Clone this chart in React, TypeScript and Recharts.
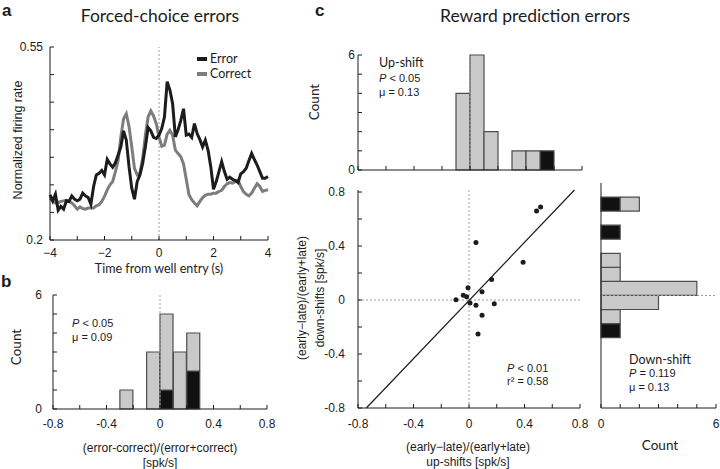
import type { ReactNode } from 'react';
import {
  LineChart,
  Line,
  BarChart,
  Bar,
  ScatterChart,
  Scatter,
  XAxis,
  YAxis,
  ReferenceLine,
  Legend,
} from 'recharts';

const SANS = '"Liberation Sans", Arial, sans-serif';
const HUMAN = 'Lato, "Open Sans", sans-serif';
const INK = '#1c1c1c';
const GRAY_LINE = '#7d7d7d';
const BAR_GRAY = '#c9c9c9';
const BAR_EDGE = '#4d4d4d';
const GUIDE = '#9c9c9c';

// ---- a: normalized firing rate around well entry ----
const TIME_S = [
  -4, -3.9, -3.8, -3.7, -3.6, -3.5, -3.4, -3.3, -3.2, -3.1,
  -3, -2.9, -2.8, -2.7, -2.6, -2.5, -2.4, -2.3, -2.2, -2.1,
  -2, -1.9, -1.8, -1.7, -1.6, -1.5, -1.4, -1.3, -1.2, -1.1,
  -1, -0.9, -0.8, -0.7, -0.6, -0.5, -0.4, -0.3, -0.2, -0.1,
  0, 0.1, 0.2, 0.3, 0.4, 0.5, 0.6, 0.7, 0.8, 0.9,
  1, 1.1, 1.2, 1.3, 1.4, 1.5, 1.6, 1.7, 1.8, 1.9,
  2, 2.1, 2.2, 2.3, 2.4, 2.5, 2.6, 2.7, 2.8, 2.9,
  3, 3.1, 3.2, 3.3, 3.4, 3.5, 3.6, 3.7, 3.8, 3.9,
  4,
];
const ERROR_RATE = [
  0.282, 0.271, 0.283, 0.254, 0.261, 0.256, 0.271, 0.270, 0.280, 0.274,
  0.271, 0.274, 0.285, 0.280, 0.277, 0.265, 0.297, 0.318, 0.321, 0.326,
  0.318, 0.346, 0.338, 0.332, 0.340, 0.354, 0.369, 0.398, 0.381, 0.333,
  0.294, 0.274, 0.306, 0.318, 0.339, 0.369, 0.404, 0.398, 0.386, 0.384,
  0.390, 0.402, 0.423, 0.487, 0.472, 0.447, 0.387, 0.400, 0.417, 0.438,
  0.390, 0.392, 0.386, 0.411, 0.393, 0.382, 0.369, 0.381, 0.363, 0.333,
  0.292, 0.306, 0.324, 0.342, 0.324, 0.310, 0.314, 0.310, 0.308, 0.304,
  0.320, 0.324, 0.330, 0.344, 0.357, 0.346, 0.336, 0.324, 0.312, 0.312,
  0.315,
];
const CORRECT_RATE = [
  0.276, 0.271, 0.267, 0.268, 0.270, 0.271, 0.272, 0.270, 0.267, 0.262,
  0.256, 0.260, 0.257, 0.256, 0.258, 0.258, 0.258, 0.262, 0.264, 0.270,
  0.279, 0.291, 0.300, 0.306, 0.324, 0.344, 0.387, 0.420, 0.429, 0.406,
  0.369, 0.330, 0.318, 0.321, 0.348, 0.390, 0.423, 0.434, 0.425, 0.411,
  0.387, 0.370, 0.372, 0.392, 0.399, 0.390, 0.363, 0.357, 0.351, 0.338,
  0.310, 0.282, 0.273, 0.267, 0.262, 0.270, 0.277, 0.281, 0.283, 0.283,
  0.285, 0.285, 0.288, 0.290, 0.297, 0.302, 0.304, 0.303, 0.306, 0.309,
  0.297, 0.288, 0.283, 0.280, 0.285, 0.294, 0.302, 0.297, 0.288, 0.290,
  0.291,
];
const TIME_TICKS = [-4, -3, -2, -1, 0, 1, 2, 3, 4];
const TIME_LABELS = [-4, -2, 0, 2, 4];
const RATE_TICKS = [0.2, 0.25, 0.3, 0.35, 0.4, 0.45, 0.5, 0.55];
const RATE_LABELS = [0.2, 0.55];

// ---- histograms, 0.1 wide bins ----
const BIN_CENTERS = [
  -0.75, -0.65, -0.55, -0.45, -0.35, -0.25, -0.15, -0.05,
  0.05, 0.15, 0.25, 0.35, 0.45, 0.55, 0.65, 0.75,
];
const FC_GRAY = [0, 0, 0, 0, 0, 1, 0, 3, 4, 3, 2, 0, 0, 0, 0, 0];
const FC_BLACK = [0, 0, 0, 0, 0, 0, 0, 0, 1, 0, 2, 0, 0, 0, 0, 0];
const UP_GRAY = [0, 0, 0, 0, 0, 0, 0, 4, 6, 2, 0, 1, 1, 0, 0, 0];
const UP_BLACK = [0, 0, 0, 0, 0, 0, 0, 0, 0, 0, 0, 0, 0, 1, 0, 0];
const DOWN_GRAY = [0, 0, 0, 0, 0, 0, 1, 3, 5, 1, 1, 0, 0, 0, 1, 0];
const DOWN_BLACK = [0, 0, 0, 0, 0, 1, 0, 0, 0, 0, 0, 0, 1, 0, 1, 0];
const INDEX_TICKS = [-0.8, -0.6, -0.4, -0.2, 0, 0.2, 0.4, 0.6, 0.8];
const INDEX_LABELS = [-0.8, -0.4, 0, 0.4, 0.8];
const COUNT_TICKS = [0, 1, 2, 3, 4, 5, 6];
const COUNT_LABELS = [0, 6];

// ---- c: up-shift vs down-shift index per neuron ----
const UP_SHIFT = [0.487, 0.516, 0.05, 0.39, 0.163, -0.007, 0.094, -0.041, -0.017, -0.094, 0.007, 0.05, 0.182, 0.094, 0.065];
const DOWN_SHIFT = [0.66, 0.689, 0.426, 0.28, 0.152, 0.09, 0.061, 0.035, 0.024, 0.002, -0.022, -0.039, -0.027, -0.113, -0.252];
// end points of the regression line
const FIT_X = [-0.74, 0.76];
const FIT_Y = [-0.8, 0.815];

const LEGEND_ITEMS = [
  { name: 'Error', color: INK },
  { name: 'Correct', color: GRAY_LINE },
];

const rateData = TIME_S.map((t, i) => ({ t, error: ERROR_RATE[i], correct: CORRECT_RATE[i] }));
const binRows = (gray: number[], black: number[]) =>
  BIN_CENTERS.map((bin, i) => ({ bin, gray: gray[i], black: black[i] }));
const shiftData = UP_SHIFT.map((x, i) => ({ x, y: DOWN_SHIFT[i] }));
const fitData = FIT_X.map((x, i) => ({ x, y: FIT_Y[i] }));

const pick = (keep: number[], fmt: (v: number) => string) => (v: number) =>
  keep.some(k => Math.abs(k - v) < 1e-6) ? fmt(v) : '';
const fmtTime = (v: number) => (v < 0 ? `\u2212${-v}` : `${v}`);
const fmtPlain = (v: number) => `${v}`;

// matlab style: ticks pointing into the plot
const axisStyle = {
  axisLine: { stroke: INK, strokeWidth: 1 },
  tickLine: { stroke: INK, strokeWidth: 1 },
  tick: { fill: INK, fontSize: 12, fontFamily: SANS },
  tickSize: -4,
  interval: 0 as const,
};

type NoteProps = {
  x: number;
  y: number;
  size?: number;
  font?: string;
  center?: boolean;
  rotate?: boolean;
  bold?: boolean;
  children: ReactNode;
};

// y is the vertical centre of the text
function Note({ x, y, size = 12, font = SANS, center = false, rotate = false, bold = false, children }: NoteProps) {
  return (
    <div style={{
      position: 'absolute',
      left: x,
      top: y,
      fontFamily: font,
      fontSize: size,
      lineHeight: 1,
      color: INK,
      fontWeight: bold ? 700 : 400,
      whiteSpace: 'nowrap',
      transform: `translate(${center || rotate ? '-50%' : '0'}, -50%)${rotate ? ' rotate(-90deg)' : ''}`,
    }}>
      {children}
    </div>
  );
}

function RateLegend() {
  return (
    <div style={{ fontFamily: HUMAN, fontSize: 12.5, color: INK, lineHeight: '14.5px' }}>
      {LEGEND_ITEMS.map(item => (
        <div key={item.name} style={{ display: 'flex', alignItems: 'center' }}>
          <span style={{ display: 'inline-block', width: 10, height: 4, background: item.color, marginRight: 3 }} />
          <span>{item.name}</span>
        </div>
      ))}
    </div>
  );
}

function Dot(props: { cx?: number; cy?: number }) {
  return <circle cx={props.cx} cy={props.cy} r={2.5} fill={INK} />;
}

type HistProps = {
  rows: { bin: number; gray: number; black: number }[];
  width: number;
  height: number;
  margin: { top: number; right: number; bottom: number; left: number };
  yWidth: number;
  yGap: number;
  xHeight: number;
  xLabels: number[];
};

function CountHist({ rows, width, height, margin, yWidth, yGap, xHeight, xLabels }: HistProps) {
  return (
    <BarChart width={width} height={height} data={rows} margin={margin} barCategoryGap={0} barGap={0}>
      <XAxis type="number" dataKey="bin" domain={[-0.8, 0.8]} ticks={INDEX_TICKS}
        tickFormatter={pick(xLabels, fmtPlain)} height={xHeight} tickMargin={14} {...axisStyle} />
      <YAxis type="number" domain={[0, 6]} ticks={COUNT_TICKS}
        tickFormatter={pick(COUNT_LABELS, fmtPlain)} width={yWidth} tickMargin={yGap} {...axisStyle} />
      <Bar dataKey="black" stackId="s" fill="#111" stroke={BAR_EDGE} strokeWidth={1.2} isAnimationActive={false} />
      <Bar dataKey="gray" stackId="s" fill={BAR_GRAY} stroke={BAR_EDGE} strokeWidth={1.2} isAnimationActive={false} />
      <ReferenceLine x={0} stroke={GUIDE} strokeDasharray="2 2" />
    </BarChart>
  );
}

export default function App() {
  return (
    <div style={{ position: 'absolute', left: 0, top: 0, width: 720, height: 469, background: '#fff', overflow: 'hidden' }}>
      {/* a */}
      <div style={{ position: 'absolute', left: 0, top: 0 }}>
        <LineChart width={290} height={290} data={rateData} margin={{ top: 47, right: 22, bottom: 14, left: 0 }}>
          <XAxis type="number" dataKey="t" domain={[-4, 4]} ticks={TIME_TICKS}
            tickFormatter={pick(TIME_LABELS, fmtTime)} height={36} tickMargin={12} {...axisStyle} />
          <YAxis type="number" domain={[0.2, 0.55]} ticks={RATE_TICKS}
            tickFormatter={pick(RATE_LABELS, fmtPlain)} width={50} tickMargin={11} {...axisStyle} />
          <ReferenceLine x={0} stroke={GUIDE} strokeDasharray="2 2" />
          <Line dataKey="correct" stroke={GRAY_LINE} strokeWidth={3} dot={false} isAnimationActive={false} />
          <Line dataKey="error" stroke={INK} strokeWidth={3} dot={false} isAnimationActive={false} />
          <Legend layout="vertical" align="center" verticalAlign="middle" content={<RateLegend />}
            wrapperStyle={{ top: 52, left: 197, width: 'auto' }} />
        </LineChart>
      </div>

      {/* b */}
      <div style={{ position: 'absolute', left: 0, top: 270 }}>
        <CountHist rows={binRows(FC_GRAY, FC_BLACK)} width={290} height={200}
          margin={{ top: 25, right: 23, bottom: 6, left: 0 }} yWidth={53} yGap={15} xHeight={55} xLabels={INDEX_LABELS} />
      </div>

      {/* c, up-shift histogram */}
      <div style={{ position: 'absolute', left: 300, top: 30 }}>
        <CountHist rows={binRows(UP_GRAY, UP_BLACK)} width={300} height={160}
          margin={{ top: 25, right: 18, bottom: 6, left: 0 }} yWidth={58} yGap={7} xHeight={14} xLabels={[]} />
      </div>

      {/* c, scatter */}
      <div style={{ position: 'absolute', left: 300, top: 170 }}>
        <ScatterChart width={290} height={290} margin={{ top: 20, right: 10, bottom: 22, left: 0 }}>
          <XAxis type="number" dataKey="x" domain={[-0.8, 0.8]} ticks={INDEX_TICKS}
            tickFormatter={pick(INDEX_LABELS, fmtPlain)} height={30} tickMargin={15} {...axisStyle} />
          <YAxis type="number" dataKey="y" domain={[-0.8, 0.8]} ticks={INDEX_TICKS}
            tickFormatter={pick(INDEX_LABELS, fmtPlain)} width={58} tickMargin={17} {...axisStyle} />
          <ReferenceLine x={0} stroke={GUIDE} strokeDasharray="2 2" />
          <ReferenceLine y={0} stroke={GUIDE} strokeDasharray="2 2" />
          <Scatter data={fitData} line={{ stroke: INK, strokeWidth: 1.2 }} shape={() => <g />} isAnimationActive={false} />
          <Scatter data={shiftData} shape={<Dot />} isAnimationActive={false} />
        </ScatterChart>
      </div>

      {/* c, down-shift histogram */}
      <div style={{ position: 'absolute', left: 560, top: 160 }}>
        <BarChart layout="vertical" width={160} height={290} data={binRows(DOWN_GRAY, DOWN_BLACK)}
          margin={{ top: 23, right: 4, bottom: 12, left: 0 }} barCategoryGap={0} barGap={0}>
          <XAxis type="number" domain={[0, 6]} ticks={COUNT_TICKS}
            tickFormatter={pick(COUNT_LABELS, fmtPlain)} height={30} tickMargin={15} {...axisStyle} />
          <YAxis type="number" dataKey="bin" domain={[-0.8, 0.8]} width={41} reversed
            tick={false} tickLine={false} axisLine={{ stroke: INK, strokeWidth: 1 }} />
          <Bar dataKey="black" stackId="s" fill="#111" stroke={BAR_EDGE} strokeWidth={1.2} isAnimationActive={false} />
          <Bar dataKey="gray" stackId="s" fill={BAR_GRAY} stroke={BAR_EDGE} strokeWidth={1.2} isAnimationActive={false} />
          <ReferenceLine y={0} stroke={GUIDE} strokeDasharray="2 2" />
        </BarChart>
      </div>

      {/* titles and panel letters */}
      <Note x={2} y={10} size={17} bold>a</Note>
      <Note x={1} y={281} size={17} bold>b</Note>
      <Note x={315} y={10} size={17} bold>c</Note>
      <Note x={160} y={16} size={17.5} font={HUMAN} center>Forced-choice errors</Note>
      <Note x={535} y={16} size={17.5} font={HUMAN} center>Reward prediction errors</Note>

      {/* axis titles */}
      <Note x={18} y={140} size={12.5} rotate>Normalized firing rate</Note>
      <Note x={159} y={269} size={12.5} font={HUMAN} center>Time from well entry (s)</Note>
      <Note x={17} y={347} size={13.5} font={HUMAN} rotate>Count</Note>
      <Note x={160} y={448} center>(error-correct)/(error+correct)</Note>
      <Note x={160} y={463} center>[spk/s]</Note>
      <Note x={315} y={102} size={13.5} font={HUMAN} rotate>Count</Note>
      <Note x={302} y={298} rotate>(early{'\u2212'}late)/(early+late)</Note>
      <Note x={320} y={298} rotate>down-shifts [spk/s]</Note>
      <Note x={468} y={447} center>(early{'\u2212'}late)/(early+late)</Note>
      <Note x={468} y={462} center>up-shifts [spk/s]</Note>
      <Note x={660} y={446} size={13.5} font={HUMAN} center>Count</Note>

      {/* statistics */}
      <Note x={72} y={323} size={11}><i>P</i> &lt; 0.05</Note>
      <Note x={72} y={337} size={11}>μ = 0.09</Note>
      <Note x={379} y={63} size={12.5} font={HUMAN}>Up-shift</Note>
      <Note x={379} y={78} size={11}><i>P</i> &lt; 0.05</Note>
      <Note x={379} y={92} size={11}>μ = 0.13</Note>
      <Note x={507} y={368} size={11}><i>P</i> &lt; 0.01</Note>
      <Note x={507} y={381} size={11}>r² = 0.58</Note>
      <Note x={629} y={360} size={12.5} font={HUMAN}>Down-shift</Note>
      <Note x={629} y={373} size={11}><i>P</i> = 0.119</Note>
      <Note x={629} y={387} size={11}>μ = 0.13</Note>
    </div>
  );
}
